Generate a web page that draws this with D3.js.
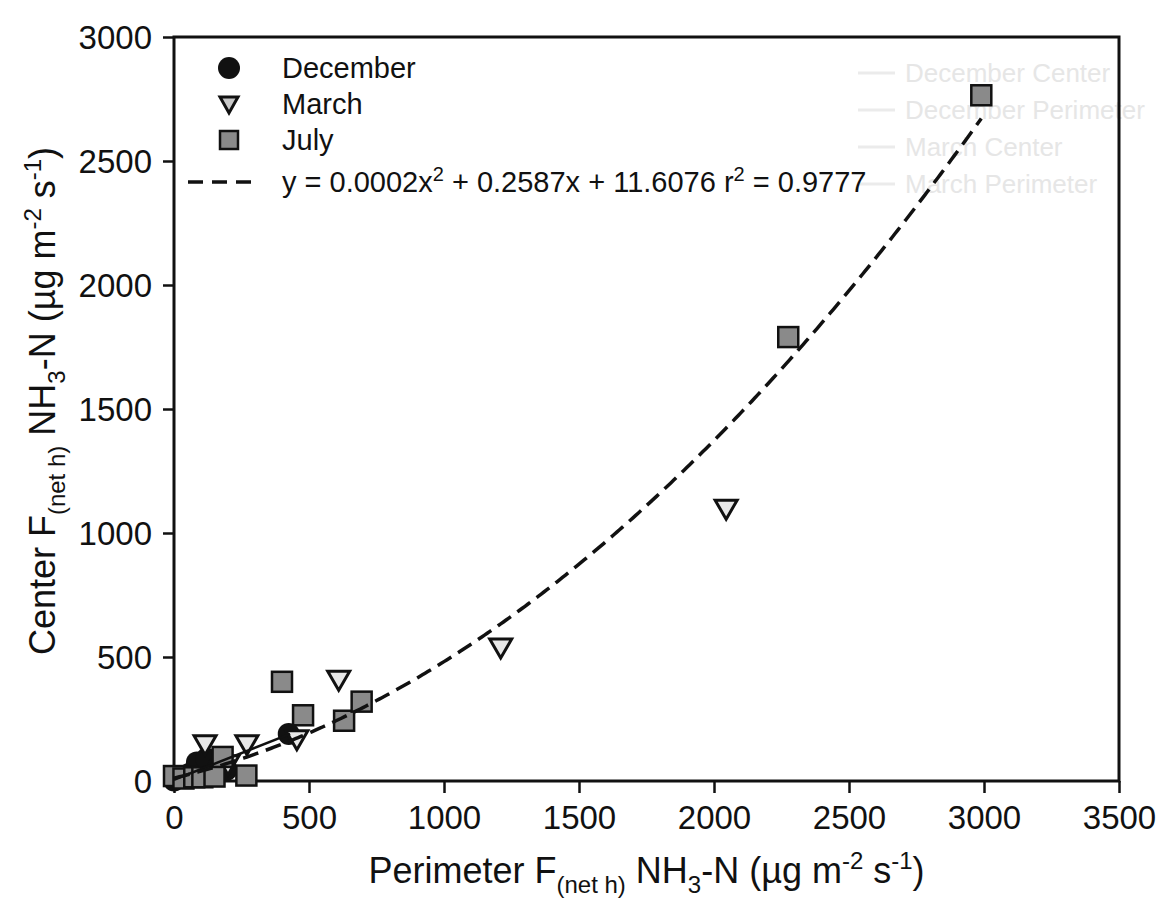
<!DOCTYPE html>
<html>
<head>
<meta charset="utf-8">
<script src="https://cdn.jsdelivr.net/npm/d3@7"></script>
<style>
    body { margin: 0; background: #fff; }
    text { font-family: "Liberation Sans", Arial, sans-serif; fill: #111; }
    .axis-title { font-size: 36px; }
    .legend-label { font-size: 29px; }
    .ghost { font-size: 26px; fill: #e6e6e6; }
</style>
</head>
<body>
<div id="chart"></div>
<script>
// December (circles)
const decX = [0, 60, 85, 120, 165, 195, 425];
const decY = [2, 30, 75, 90, 60, 45, 190];

// March (triangles)
const marX = [30, 115, 200, 270, 455, 610, 1210, 2045];
const marY = [25, 150, 70, 150, 170, 410, 540, 1100];

// July (squares)
const julX = [0, 35, 75, 105, 150, 180, 268, 400, 478, 630, 695, 2275, 2990];
const julY = [20, 10, 15, 15, 18, 97, 22, 400, 265, 243, 320, 1790, 2765];

// quadratic fit drawn from its coefficients (c, b, a)
const fitCoef = [11.6076, 0.2587, 0.000211];
const fitRange = [0, 2990];
// December straight line (intercept, slope)
const decLine = [5, 0.43];
const decLineRange = [0, 430];

const xTicks = [0, 500, 1000, 1500, 2000, 2500, 3000, 3500];
const yTicks = [0, 500, 1000, 1500, 2000, 2500, 3000];

const legendNames = ["December", "March", "July"];
const ghostNames = ["December Center", "December Perimeter", "March Center", "March Perimeter"];

function renderChart() {
    const width = 1160;
    const height = 902;
    const left = 174, right = 1119, top = 37, bottom = 781;

    const svg = d3.select("#chart")
        .append("svg")
        .attr("width", width)
        .attr("height", height);

    svg.append("rect").attr("width", width).attr("height", height).attr("fill", "#fff");

    const x = d3.scaleLinear().domain([0, 3500]).range([left, right]);
    const y = d3.scaleLinear().domain([0, 3000]).range([bottom, top]);

    // faint bleed-through legend from the other side of the page
    const ghost = svg.append("g");
    ghost.selectAll("text")
        .data(ghostNames)
        .enter()
        .append("text")
        .attr("class", "ghost")
        .attr("x", 905)
        .attr("y", (d, i) => 82 + i * 37)
        .text(d => d);
    ghost.selectAll("line")
        .data(ghostNames)
        .enter()
        .append("line")
        .attr("x1", 858).attr("x2", 895)
        .attr("y1", (d, i) => 73 + i * 37)
        .attr("y2", (d, i) => 73 + i * 37)
        .attr("stroke", "#ebebeb")
        .attr("stroke-width", 3);

    // axes
    const xAxis = d3.axisBottom(x).tickValues(xTicks).tickFormat(d3.format("d")).tickSize(12).tickPadding(5);
    const yAxis = d3.axisLeft(y).tickValues(yTicks).tickFormat(d3.format("d")).tickSize(11).tickPadding(11);

    const gx = svg.append("g").attr("transform", `translate(0,${bottom})`).call(xAxis);
    const gy = svg.append("g").attr("transform", `translate(${left},0)`).call(yAxis);

    [gx, gy].forEach(g => {
        g.select(".domain").remove();
        g.selectAll(".tick line").attr("stroke", "#111").attr("stroke-width", 2.5);
        g.selectAll(".tick text")
            .attr("fill", "#111")
            .style("font-size", "33px")
            .style("font-family", '"Liberation Sans", Arial, sans-serif');
    });
    gx.selectAll(".tick text").attr("dy", "0.95em");
    gy.selectAll(".tick text").attr("dy", "0.36em");

    // frame
    svg.append("rect")
        .attr("x", left).attr("y", top)
        .attr("width", right - left).attr("height", bottom - top)
        .attr("fill", "none")
        .attr("stroke", "#111")
        .attr("stroke-width", 3);

    // markers
    const dec = decX.map((v, i) => ({ x: v, y: decY[i] }));
    const mar = marX.map((v, i) => ({ x: v, y: marY[i] }));
    const jul = julX.map((v, i) => ({ x: v, y: julY[i] }));

    const tri = "M-11,-8 L11,-8 L0,11 Z";

    svg.append("g").selectAll("circle")
        .data(dec)
        .enter()
        .append("circle")
        .attr("cx", d => x(d.x))
        .attr("cy", d => y(d.y))
        .attr("r", 11)
        .attr("fill", "#111");

    svg.append("g").selectAll("path")
        .data(mar)
        .enter()
        .append("path")
        .attr("d", tri)
        .attr("transform", d => `translate(${x(d.x)},${y(d.y)})`)
        .attr("fill", "#e8e8e8")
        .attr("stroke", "#111")
        .attr("stroke-width", 3);

    svg.append("g").selectAll("rect")
        .data(jul)
        .enter()
        .append("rect")
        .attr("x", d => x(d.x) - 10)
        .attr("y", d => y(d.y) - 10)
        .attr("width", 20)
        .attr("height", 20)
        .attr("fill", "#8a8a8a")
        .attr("stroke", "#111")
        .attr("stroke-width", 2.5);

    // December line
    svg.append("line")
        .attr("x1", x(decLineRange[0]))
        .attr("y1", y(decLine[0] + decLine[1] * decLineRange[0]))
        .attr("x2", x(decLineRange[1]))
        .attr("y2", y(decLine[0] + decLine[1] * decLineRange[1]))
        .attr("stroke", "#111")
        .attr("stroke-width", 2.5);

    // quadratic fit
    const fitXs = d3.range(fitRange[0], fitRange[1] + 1, 10);
    const fitLine = d3.line()
        .x(d => x(d))
        .y(d => y(fitCoef[0] + fitCoef[1] * d + fitCoef[2] * d * d));

    svg.append("path")
        .datum(fitXs)
        .attr("d", fitLine)
        .attr("fill", "none")
        .attr("stroke", "#111")
        .attr("stroke-width", 3.5)
        .attr("stroke-dasharray", "16,8");

    // legend
    const legend = svg.append("g");
    const rowY = [68, 104, 140, 182];
    const symX = 229;

    legend.append("circle").attr("cx", symX).attr("cy", rowY[0]).attr("r", 11).attr("fill", "#111");
    legend.append("path")
        .attr("d", "M-9,-7 L9,-7 L0,9 Z")
        .attr("transform", `translate(${symX},${rowY[1]})`)
        .attr("fill", "#c8c8c8")
        .attr("stroke", "#111")
        .attr("stroke-width", 3);
    legend.append("rect")
        .attr("x", symX - 9).attr("y", rowY[2] - 9)
        .attr("width", 18).attr("height", 18)
        .attr("fill", "#8a8a8a")
        .attr("stroke", "#111")
        .attr("stroke-width", 2.5);
    legend.append("line")
        .attr("x1", 188).attr("x2", 252)
        .attr("y1", rowY[3]).attr("y2", rowY[3])
        .attr("stroke", "#111")
        .attr("stroke-width", 3.5)
        .attr("stroke-dasharray", "15,9");

    legend.selectAll(".legend-label")
        .data(legendNames)
        .enter()
        .append("text")
        .attr("class", "legend-label")
        .attr("x", 282)
        .attr("y", (d, i) => rowY[i] + 10)
        .text(d => d);

    const eq = legend.append("text")
        .attr("class", "legend-label")
        .attr("x", 282)
        .attr("y", rowY[3] + 10);
    eq.append("tspan").text("y = 0.0002x");
    eq.append("tspan").attr("dy", -11).style("font-size", "20px").text("2");
    eq.append("tspan").attr("dy", 11).text(" + 0.2587x + 11.6076 r");
    eq.append("tspan").attr("dy", -11).style("font-size", "20px").text("2");
    eq.append("tspan").attr("dy", 11).text(" = 0.9777");

    // axis titles
    function title(g, main) {
        g.append("tspan").text(main + " F");
        g.append("tspan").attr("dy", 10).style("font-size", "24px").text("(net h)");
        g.append("tspan").attr("dy", -10).text(" NH");
        g.append("tspan").attr("dy", 10).style("font-size", "24px").text("3");
        g.append("tspan").attr("dy", -10).text("-N (\u00b5g m");
        g.append("tspan").attr("dy", -14).style("font-size", "24px").text("-2");
        g.append("tspan").attr("dy", 14).text(" s");
        g.append("tspan").attr("dy", -14).style("font-size", "24px").text("-1");
        g.append("tspan").attr("dy", 14).text(")");
    }

    const xt = svg.append("text")
        .attr("class", "axis-title")
        .attr("x", (left + right) / 2)
        .attr("y", 883)
        .attr("text-anchor", "middle");
    title(xt, "Perimeter");

    const yt = svg.append("text")
        .attr("class", "axis-title")
        .attr("text-anchor", "middle")
        .attr("transform", `translate(55,${(top + bottom) / 2 - 8}) rotate(-90)`);
    title(yt, "Center");
}

renderChart();
</script>
</body>
</html>
